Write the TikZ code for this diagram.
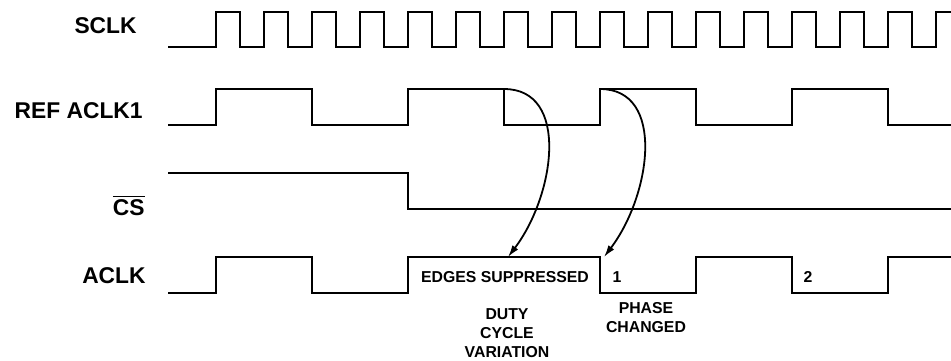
\documentclass[tikz,border=0pt]{standalone}
\usepackage{fontspec}
\setmainfont{Liberation Sans}
\usepackage{tikz}
\usetikzlibrary{
  arrows.meta,
  positioning
}
\definecolor{wavecolor}{RGB}{0, 0, 0}
\definecolor{labelcolor}{RGB}{0, 0, 0}
\definecolor{arrowcolor}{RGB}{0, 0, 0}
\tikzset{
signame/.style={
  anchor=base east,
  inner sep=0pt,
  font=\bfseries\fontsize{11.4}{13}\selectfont,
  text=labelcolor
},
notetext/.style={
  inner sep=0pt,
  align=center,
  font=\bfseries\fontsize{7.9}{9.5}\selectfont,
  text=labelcolor
},
wave/.style={
  draw=wavecolor,
  line width=1pt,
  line join=miter
},
arrow/.style={
  -{Latex[length=6pt,width=3.6pt]},
  line width=0.9pt,
  draw=arrowcolor
}
}

\begin{document}
\begin{tikzpicture}[x=0.5pt,y=-0.5pt]
  \useasboundingbox (0,0) rectangle (951,360);

  \node[signame] (sclk) at (137,33) {SCLK};
  \node[signame] (refclk) at (143,118) {REF ACLK1};
  \node[signame] (cs) at (145,215) {\(\overline{\hbox{CS}}\)};
  \node[signame] (aclk) at (146,283) {ACLK};

  % waveforms
  \draw[wave] (168,47) \foreach \i in {0,...,14} {
      -- ({216+48*\i},47) -- ({216+48*\i},12) -- ({240+48*\i},12) -- ({240+48*\i},47)
    } -- (936,47) -- (936,12) -- (951,12);
  \draw[wave] (168,125) \foreach \i in {0,...,3} {
      -- ({216+192*\i},125) -- ({216+192*\i},89) -- ({312+192*\i},89) -- ({312+192*\i},125)
    } -- (951,125);
  \draw[wave] (168,173) -- (408,173) -- (408,209) -- (951,209);
  \draw[wave] (168,293) -- (216,293) -- (216,257) -- (312,257) -- (312,293)
    -- (408,293) -- (408,257) -- (600,257) -- (600,293) -- (696,293)
    -- (696,257) -- (792,257) -- (792,293) -- (888,293) -- (888,257) -- (951,257);

  \coordinate (dcfrom) at (504,89);
  \coordinate (dcto) at (508,257);
  \coordinate (phfrom) at (600,89);
  \coordinate (phto) at (604,257);
  \draw[arrow] (dcfrom) .. controls +(66,0) and +(47,-62) .. (dcto);
  \draw[arrow] (phfrom) .. controls +(66,0) and +(47,-62) .. (phto);

  \node[notetext, anchor=base] (supp) at (505,282) {EDGES SUPPRESSED};
  \node[notetext, anchor=base] (one) at (617,282) {1};
  \node[notetext, anchor=base] (two) at (808,282) {2};
  \node[notetext, anchor=north] (duty) at (507,308) {DUTY\\CYCLE\\VARIATION};
  \node[notetext, anchor=north] (phase) at (646,302) {PHASE\\CHANGED};
\end{tikzpicture}
\end{document}
